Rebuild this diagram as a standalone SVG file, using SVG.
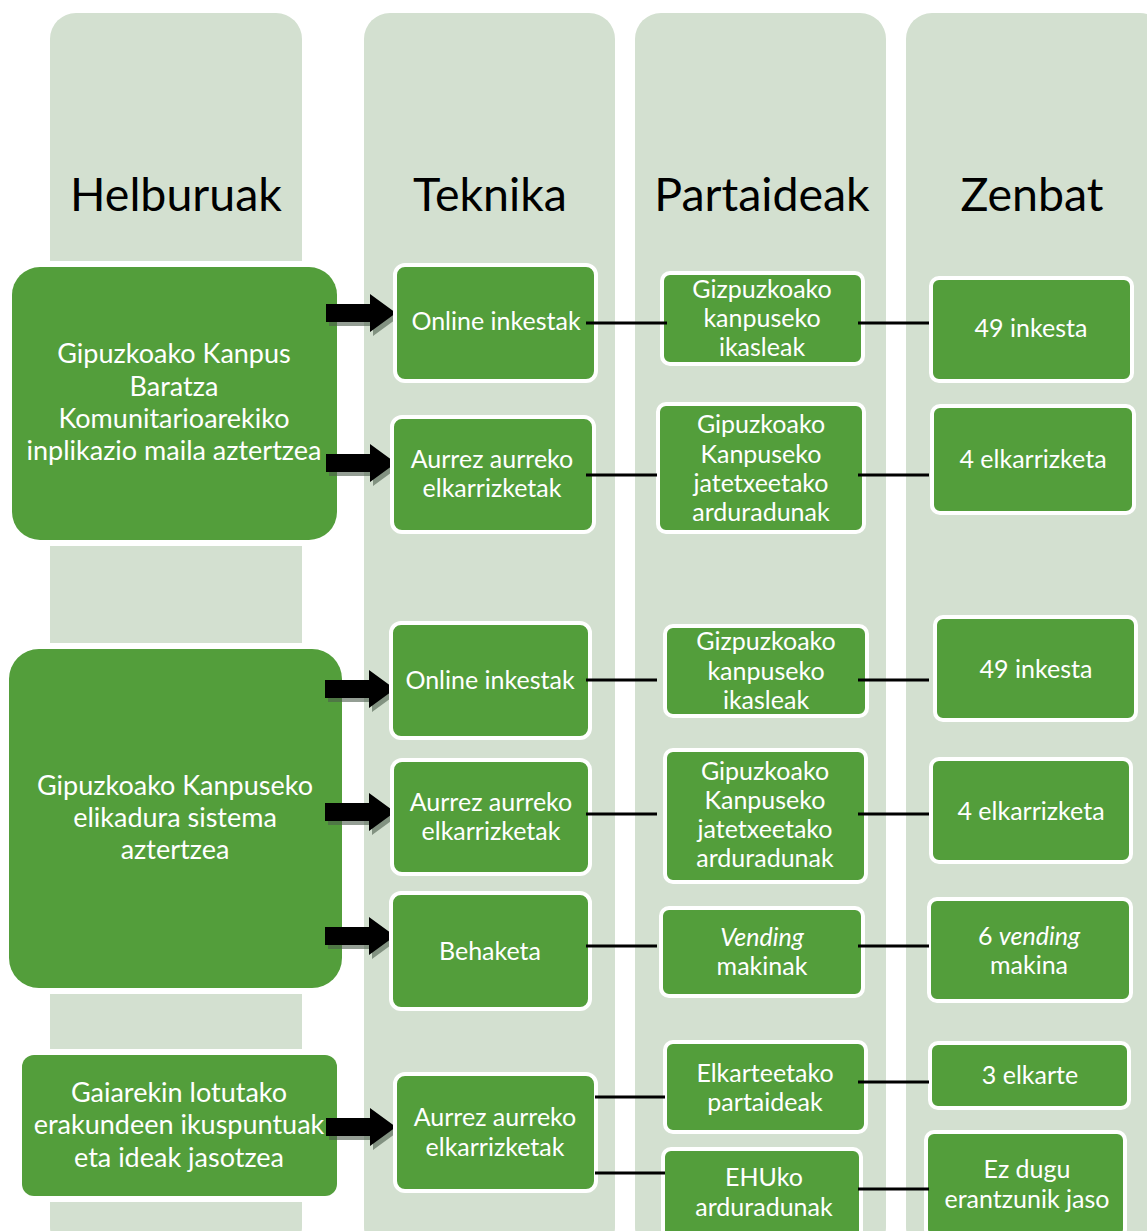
<svg xmlns="http://www.w3.org/2000/svg" width="1147" height="1231" viewBox="0 0 1147 1231">
<style>
.col{fill:#D3E0D0}
.gw{fill:#FFFFFF}
.g{fill:#539E3B}
.b{fill:#539E3B;stroke:#FFFFFF;stroke-width:4}
.h{font-family:Lato,"Open Sans",sans-serif;font-size:46.5px;fill:#000;text-anchor:middle}
.t{font-family:Lato,"Open Sans",sans-serif;font-size:25px;fill:#FFFFFF;text-anchor:middle}
.tg{font-family:Lato,"Open Sans",sans-serif;font-size:27px;fill:#FFFFFF;text-anchor:middle}
.c{stroke:#000;stroke-width:3;fill:none}
.ar{fill:#000}
.sh{fill:#4d5e4d;opacity:0.6}
</style>
<defs>
<path id="arrow" d="M-70,-9 L-26,-9 L-26,-19 L0,0 L-26,19 L-26,9 L-70,9 Z"/>
</defs>
<g id="columns">
<rect class="col" x="50" y="13" width="252" height="1240" rx="26"/>
<rect class="col" x="364" y="13" width="251" height="1240" rx="26"/>
<rect class="col" x="635" y="13" width="251" height="1240" rx="26"/>
<rect class="col" x="906" y="13" width="260" height="1240" rx="26"/>
<text class="h" x="176" y="211">Helburuak</text>
<text class="h" x="490" y="211">Teknika</text>
<text class="h" x="762" y="211">Partaideak</text>
<text class="h" x="1032" y="211">Zenbat</text>
</g>
<g id="goal1">
<rect class="gw" x="6" y="261" width="337" height="285" rx="34"/>
<rect class="g" x="12" y="267" width="325" height="273" rx="28"/>
<text class="tg" x="174" y="363">Gipuzkoako Kanpus</text>
<text class="tg" x="174" y="396">Baratza</text>
<text class="tg" x="174" y="428">Komunitarioarekiko</text>
<text class="tg" x="174" y="460">inplikazio maila aztertzea</text>
</g>
<g id="goal2">
<rect class="gw" x="3" y="643" width="345" height="351" rx="36"/>
<rect class="g" x="9" y="649" width="333" height="339" rx="30"/>
<text class="tg" x="175" y="795">Gipuzkoako Kanpuseko</text>
<text class="tg" x="175" y="827">elikadura sistema</text>
<text class="tg" x="175" y="859">aztertzea</text>
</g>
<g id="goal3">
<rect class="gw" x="16" y="1049" width="327" height="153" rx="16"/>
<rect class="g" x="22" y="1055" width="315" height="141" rx="12"/>
<text class="tg" x="179" y="1102">Gaiarekin lotutako</text>
<text class="tg" x="179" y="1134">erakundeen ikuspuntuak</text>
<text class="tg" x="179" y="1167">eta ideak jasotzea</text>
</g>
<g id="connectors">
<use href="#arrow" class="sh" transform="translate(399,317)"/>
<use href="#arrow" class="ar" transform="translate(396,313)"/>
<use href="#arrow" class="sh" transform="translate(399,467)"/>
<use href="#arrow" class="ar" transform="translate(396,463)"/>
<use href="#arrow" class="sh" transform="translate(398,693)"/>
<use href="#arrow" class="ar" transform="translate(395,689)"/>
<use href="#arrow" class="sh" transform="translate(398,816)"/>
<use href="#arrow" class="ar" transform="translate(395,812)"/>
<use href="#arrow" class="sh" transform="translate(398,940)"/>
<use href="#arrow" class="ar" transform="translate(395,936)"/>
<use href="#arrow" class="sh" transform="translate(399,1131)"/>
<use href="#arrow" class="ar" transform="translate(396,1127)"/>
</g>
<g id="tech1"><rect class="b" x="395" y="265" width="201" height="116" rx="10"/><text class="t" x="496" y="330">Online inkestak</text></g>
<g id="tech2"><rect class="b" x="392" y="417" width="202" height="115" rx="10"/><text class="t" x="492" y="468">Aurrez aurreko</text><text class="t" x="492" y="497">elkarrizketak</text></g>
<g id="tech3"><rect class="b" x="391" y="623" width="199" height="115" rx="10"/><text class="t" x="490" y="689">Online inkestak</text></g>
<g id="tech4"><rect class="b" x="392" y="760" width="198" height="114" rx="10"/><text class="t" x="491" y="811">Aurrez aurreko</text><text class="t" x="491" y="840">elkarrizketak</text></g>
<g id="tech5"><rect class="b" x="391" y="893" width="199" height="116" rx="10"/><text class="t" x="490" y="960">Behaketa</text></g>
<g id="tech6"><rect class="b" x="395" y="1074" width="201" height="117" rx="10"/><text class="t" x="495" y="1126">Aurrez aurreko</text><text class="t" x="495" y="1156">elkarrizketak</text></g>
<g id="part1"><rect class="b" x="662" y="273" width="201" height="91" rx="8"/><text class="t" x="762" y="298">Gizpuzkoako</text><text class="t" x="762" y="327">kanpuseko</text><text class="t" x="762" y="356">ikasleak</text></g>
<g id="part2"><rect class="b" x="658" y="404" width="206" height="128" rx="8"/><text class="t" x="761" y="433">Gipuzkoako</text><text class="t" x="761" y="463">Kanpuseko</text><text class="t" x="761" y="492">jatetxeetako</text><text class="t" x="761" y="521">arduradunak</text></g>
<g id="part3"><rect class="b" x="665" y="626" width="202" height="90" rx="8"/><text class="t" x="766" y="650">Gizpuzkoako</text><text class="t" x="766" y="680">kanpuseko</text><text class="t" x="766" y="709">ikasleak</text></g>
<g id="part4"><rect class="b" x="665" y="750" width="201" height="132" rx="8"/><text class="t" x="765" y="780">Gipuzkoako</text><text class="t" x="765" y="809">Kanpuseko</text><text class="t" x="765" y="838">jatetxeetako</text><text class="t" x="765" y="867">arduradunak</text></g>
<g id="part5"><rect class="b" x="661" y="908" width="202" height="88" rx="8"/><text class="t" x="762" y="946" font-style="italic">Vending</text><text class="t" x="762" y="975">makinak</text></g>
<g id="part6"><rect class="b" x="665" y="1042" width="201" height="90" rx="8"/><text class="t" x="765" y="1082">Elkarteetako</text><text class="t" x="765" y="1111">partaideak</text></g>
<g id="part7"><rect class="b" x="663" y="1149" width="198" height="95" rx="8"/><text class="t" x="764" y="1186">EHUko</text><text class="t" x="764" y="1216">arduradunak</text></g>
<g id="count1"><rect class="b" x="931" y="278" width="201" height="103" rx="8"/><text class="t" x="1031" y="337">49 inkesta</text></g>
<g id="count2"><rect class="b" x="932" y="406" width="202" height="107" rx="8"/><text class="t" x="1033" y="468">4 elkarrizketa</text></g>
<g id="count3"><rect class="b" x="935" y="617" width="201" height="103" rx="8"/><text class="t" x="1036" y="678">49 inkesta</text></g>
<g id="count4"><rect class="b" x="931" y="759" width="200" height="103" rx="8"/><text class="t" x="1031" y="820">4 elkarrizketa</text></g>
<g id="count5"><rect class="b" x="929" y="899" width="202" height="102" rx="8"/><text class="t" x="1029" y="945">6 <tspan font-style="italic">vending</tspan></text><text class="t" x="1029" y="974">makina</text></g>
<g id="count6"><rect class="b" x="930" y="1043" width="199" height="65" rx="8"/><text class="t" x="1030" y="1084">3 elkarte</text></g>
<g id="count7"><rect class="b" x="926" y="1132" width="199" height="105" rx="8"/><text class="t" x="1027" y="1178">Ez dugu</text><text class="t" x="1027" y="1208">erantzunik jaso</text></g>
<g id="lines">
<line class="c" x1="586" y1="323" x2="667" y2="323"/>
<line class="c" x1="858" y1="323" x2="929" y2="323"/>
<line class="c" x1="586" y1="475" x2="657" y2="475"/>
<line class="c" x1="858" y1="475" x2="929" y2="475"/>
<line class="c" x1="586" y1="680" x2="657" y2="680"/>
<line class="c" x1="858" y1="680" x2="929" y2="680"/>
<line class="c" x1="586" y1="814" x2="657" y2="814"/>
<line class="c" x1="858" y1="814" x2="929" y2="814"/>
<line class="c" x1="586" y1="946" x2="657" y2="946"/>
<line class="c" x1="858" y1="946" x2="929" y2="946"/>
<line class="c" x1="595" y1="1097" x2="665" y2="1097"/>
<line class="c" x1="858" y1="1082" x2="929" y2="1082"/>
<line class="c" x1="595" y1="1173" x2="665" y2="1173"/>
<line class="c" x1="858" y1="1189" x2="929" y2="1189"/>
</g>
</svg>
